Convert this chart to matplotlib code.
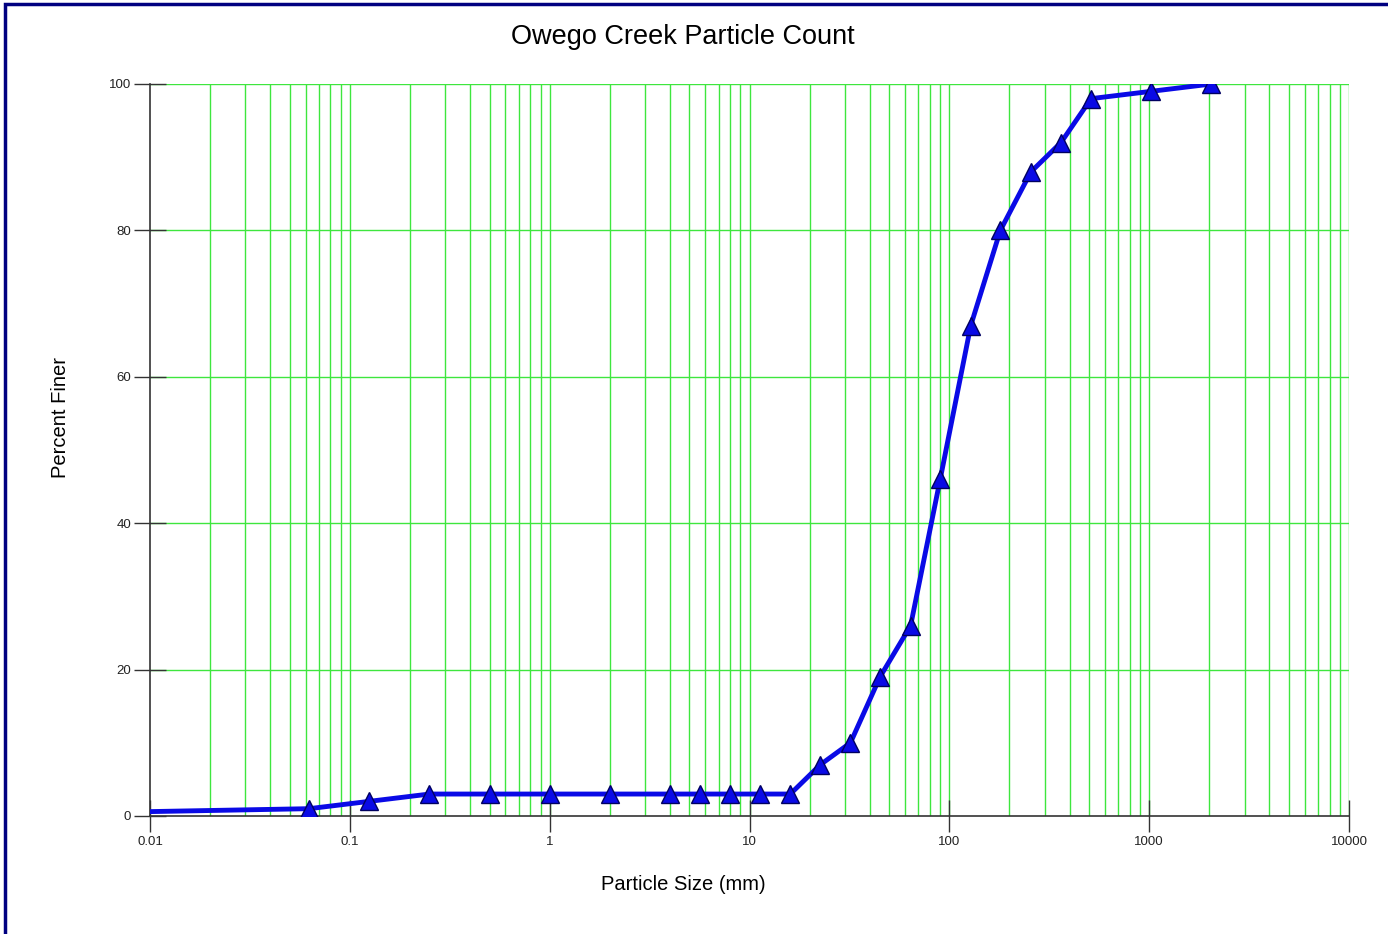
import matplotlib
matplotlib.use("Agg")
import matplotlib.pyplot as plt
from matplotlib.ticker import FixedLocator, NullFormatter, FixedFormatter
from matplotlib.patches import Rectangle

plt.rcParams['font.family'] = ['Liberation Sans', 'DejaVu Sans']

particle_size_mm = [0.01, 0.0625, 0.125, 0.25, 0.5, 1, 2, 4, 5.66, 8, 11.3, 16,
                    22.6, 32, 45, 64, 90, 128, 180, 256, 362, 512, 1024, 2048]
percent_finer = [0.6, 1, 2, 3, 3, 3, 3, 3, 3, 3, 3, 3,
                 7, 10, 19, 26, 46, 67, 80, 88, 92, 98, 99, 100]
marker_sizes = particle_size_mm[1:]
marker_values = percent_finer[1:]
x_ticks = [0.01, 0.1, 1, 10, 100, 1000, 10000]
x_tick_labels = ["0.01", "0.1", "1", "10", "100", "1000", "10000"]
y_ticks = [0, 20, 40, 60, 80, 100]

W, H = 1388, 934
fig = plt.figure(figsize=(W/100, H/100), dpi=100)
ax = fig.add_axes([150/W, 1-816/H, (1349-150)/W, (816-84)/H])

grid_color = '#3ee63e'
ax.set_xscale('log')
ax.set_xlim(0.01, 10000)
ax.set_ylim(0, 100)

minor_positions = [m * 10.0**e for e in range(-2, 4) for m in range(2, 10)]
for xv in minor_positions + x_ticks[1:]:
    ax.axvline(xv, color=grid_color, lw=1.0, zorder=1)
for yv in y_ticks[1:]:
    ax.axhline(yv, color=grid_color, lw=1.0, zorder=1)

ax.xaxis.set_major_locator(FixedLocator(x_ticks))
ax.xaxis.set_major_formatter(FixedFormatter(x_tick_labels))
ax.xaxis.set_minor_locator(FixedLocator([]))
ax.xaxis.set_minor_formatter(NullFormatter())
ax.set_yticks(y_ticks)
ax.set_yticklabels([str(v) for v in y_ticks])

ax.tick_params(axis='both', direction='inout', length=23, width=1.0,
               color='#333333', labelsize=9.5, labelcolor='#222222', pad=3)
ax.tick_params(axis='y', pad=2)

for s in ['top', 'right']:
    ax.spines[s].set_visible(False)
for s in ['left', 'bottom']:
    ax.spines[s].set_color('#333333')
    ax.spines[s].set_linewidth(1.2)
    ax.spines[s].set_zorder(2)

ax.plot(particle_size_mm, percent_finer, color='#0a0ae6', lw=3.5, zorder=3,
        solid_joinstyle='round')
ax.plot(marker_sizes, marker_values, linestyle='none', marker='^', markersize=12.5,
        markerfacecolor='#0a0ae6', markeredgecolor='#000060', markeredgewidth=1.0,
        zorder=4)

fig.text(683/W, 1-37/H, "Owego Creek Particle Count", fontsize=19.5,
         ha='center', va='center')
fig.text(683/W, 1-885/H, "Particle Size (mm)", fontsize=14.5,
         ha='center', va='center')
fig.text(60/W, 1-417/H, "Percent Finer", fontsize=14.5, rotation=90,
         ha='center', va='center')

fig.patches.append(Rectangle((5/W, -0.05), 1.2, 1.05 - 4/H, transform=fig.transFigure,
                             fill=False, edgecolor='#000080', lw=2.5))

fig.savefig("out.png", dpi=100)
